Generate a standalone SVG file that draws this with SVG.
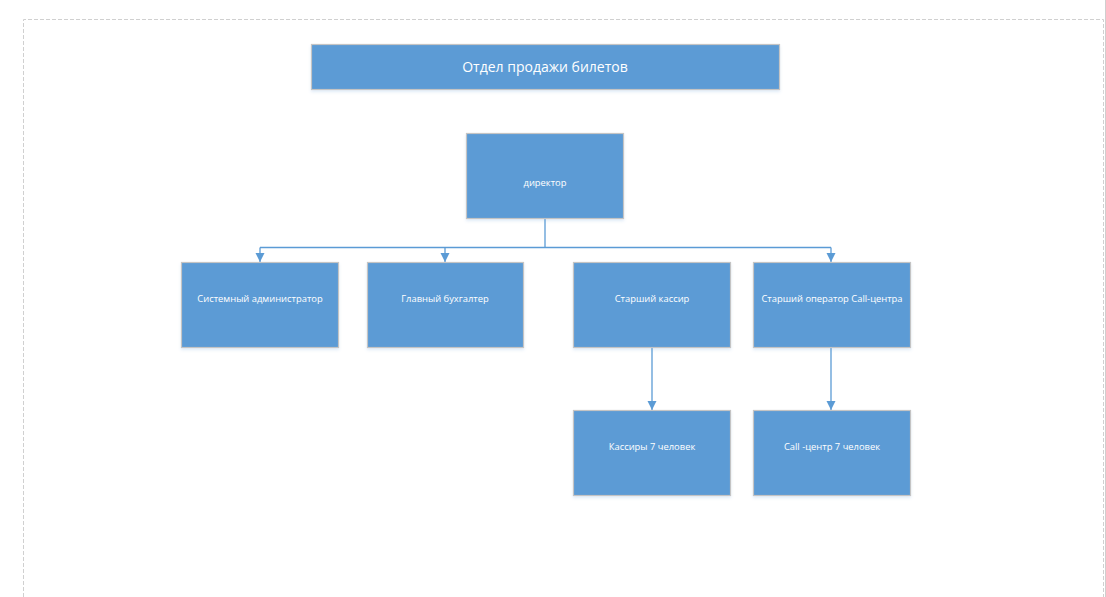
<svg xmlns="http://www.w3.org/2000/svg" width="1106" height="597" viewBox="0 0 1106 597">
<style>
.box{fill:#5B9BD5;stroke:#C4C4C4;stroke-width:1.2;filter:url(#sh)}
.t{fill:#fff;font-family:"Open Sans","Noto Sans",sans-serif;font-size:9.4px;text-anchor:middle}
.tt{fill:#fff;font-family:"Open Sans","Noto Sans",sans-serif;font-size:14px;text-anchor:middle}
.c{fill:none;stroke:#5B9BD5;stroke-width:1.3}
</style>
<defs>
<filter id="sh" x="-10%" y="-10%" width="120%" height="130%">
<feDropShadow dx="0" dy="2" stdDeviation="1.5" flood-color="#5B9BD5" flood-opacity="0.18"/>
</filter>
<marker id="ar" markerWidth="10" markerHeight="10" refX="9" refY="5" orient="auto" markerUnits="userSpaceOnUse">
<path d="M0,0.5 L9,5 L0,9.5 Z" fill="#5B9BD5"/>
</marker>
</defs>
<rect x="0" y="0" width="1106" height="597" fill="#fff"/>
<path d="M23.5,597 V19.5 H1103.5 V597" fill="none" stroke="#D0D0D0" stroke-width="1" stroke-dasharray="4,2"/>
<line x1="1105.5" y1="0" x2="1105.5" y2="597" stroke="#CFCFCF" stroke-width="1"/>
<g id="connectors">
<path class="c" d="M545,218 V247.5"/>
<path class="c" d="M260,247.5 H831"/>
<path class="c" d="M260,247.5 V262" marker-end="url(#ar)"/>
<path class="c" d="M445,247.5 V262" marker-end="url(#ar)"/>
<path class="c" d="M831,247.5 V262" marker-end="url(#ar)"/>
<path class="c" d="M652,347 V410" marker-end="url(#ar)"/>
<path class="c" d="M831,347 V410" marker-end="url(#ar)"/>
</g>
<g id="title"><rect class="box" x="311.5" y="44.5" width="468" height="45"/><text class="tt" x="545" y="71.5">Отдел продажи билетов</text></g>
<g id="director"><rect class="box" x="466.5" y="133.5" width="157" height="85"/><text class="t" x="545" y="185.5">директор</text></g>
<g id="sysadmin"><rect class="box" x="181.5" y="262.5" width="157" height="85"/><text class="t" x="260" y="301.5">Системный администратор</text></g>
<g id="accountant"><rect class="box" x="367.5" y="262.5" width="156" height="85"/><text class="t" x="445" y="301.5">Главный бухгалтер</text></g>
<g id="senior-cashier"><rect class="box" x="573.5" y="262.5" width="157" height="85"/><text class="t" x="652" y="301.5">Старший кассир</text></g>
<g id="senior-operator"><rect class="box" x="753.5" y="262.5" width="157" height="85"/><text class="t" x="832" y="301.5">Старший оператор Call-центра</text></g>
<g id="cashiers"><rect class="box" x="573.5" y="410.5" width="157" height="85"/><text class="t" x="652" y="449.5">Кассиры 7 человек</text></g>
<g id="callcenter"><rect class="box" x="753.5" y="410.5" width="157" height="85"/><text class="t" x="832" y="449.5">Call -центр 7 человек</text></g>
</svg>
